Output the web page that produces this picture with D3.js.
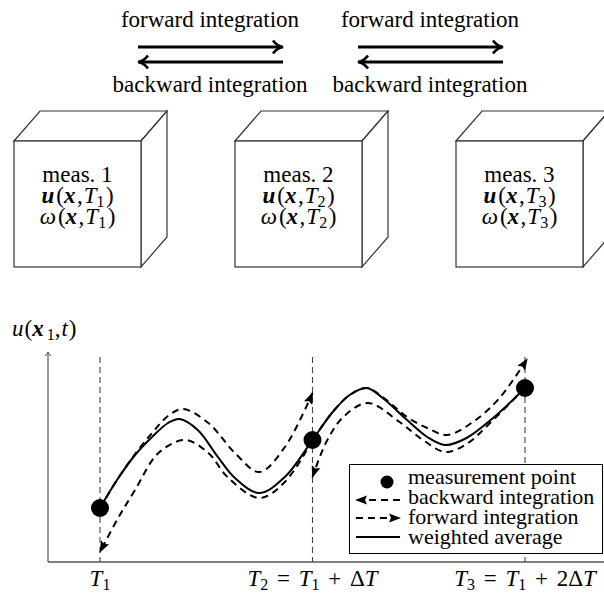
<!DOCTYPE html>
<html><head><meta charset="utf-8">
<script src="https://cdn.jsdelivr.net/npm/d3@7"></script>
<style>
html,body{margin:0;padding:0;background:#fff;}
svg{display:block;font-family:"Liberation Serif","Times New Roman",serif;}
</style></head>
<body>
<script>
// ---------- data ----------
const measNames = ["meas. 1", "meas. 2", "meas. 3"];
const measSubs = ["1", "2", "3"];
const measT = [0, 1, 2];               // time in units of ΔT after T1
const measU = [5.4, 12.2, 17.4];       // u(x1,t) at measurement
const tickT = [0, 1, 2];
const tickLabels = [
  [["T","i"],["1","s"]],
  [["T","i"],["2","s"],[" = ","o"],["T","i"],["1","s"],[" + ","o"],["Δ",""],["T","i"]],
  [["T","i"],["3","s"],[" = ","o"],["T","i"],["1","s"],[" + ","o"],["2Δ",""],["T","i"]]
];
// weighted average curve
const avgT = [0, 0.08, 0.165, 0.245, 0.32, 0.375, 0.46, 0.555, 0.635, 0.75, 0.87, 1.0, 1.095, 1.175, 1.255, 1.33, 1.445, 1.54, 1.625, 1.725, 1.85, 2.0];
const avgU = [5.4, 8.2, 10.7, 12.5, 13.9, 14.3, 13.2, 10.5, 8.4, 6.9, 8.5, 12.2, 15.0, 16.7, 17.4, 16.4, 14.2, 12.5, 11.7, 12.4, 14.4, 17.4];
// forward integration from T1
const fwd1T = [0, 0.08, 0.165, 0.245, 0.32, 0.39, 0.51, 0.635, 0.75, 0.87, 1.0];
const fwd1U = [5.4, 8.2, 10.8, 12.9, 14.6, 15.3, 13.9, 10.9, 9.0, 11.5, 16.9];
// backward integration from T2
const bwd1T = [1.0, 0.87, 0.75, 0.6, 0.51, 0.40, 0.275, 0.165, 0.08, 0.0];
const bwd1U = [12.2, 8.0, 6.4, 8.5, 10.9, 12.2, 10.9, 7.2, 4.2, 1.0];
// forward integration from T2
const fwd2T = [1.0, 1.095, 1.175, 1.255, 1.33, 1.445, 1.54, 1.633, 1.755, 1.88, 2.01];
const fwd2U = [12.2, 15.0, 16.7, 17.4, 16.5, 14.5, 13.4, 12.7, 14.0, 16.4, 20.3];
// backward integration from T3
const bwd2T = [2.0, 1.85, 1.725, 1.625, 1.52, 1.41, 1.26, 1.145, 1.065, 1.0];
const bwd2U = [17.4, 14.2, 11.8, 11.0, 12.2, 14.0, 15.9, 14.5, 12.0, 8.5];
const legendItems = ["measurement point", "backward integration", "forward integration", "weighted average"];
const topLabels = ["forward integration", "backward integration"];

// ---------- drawing ----------
const W = 604, H = 593;
const svg = d3.select("body").append("svg").attr("width", W).attr("height", H);
const defs = svg.append("defs");
defs.append("marker").attr("id","tri").attr("markerUnits","userSpaceOnUse")
  .attr("viewBox","0 -6 12 12").attr("refX",11).attr("refY",0)
  .attr("markerWidth",12).attr("markerHeight",12).attr("orient","auto")
  .append("path").attr("d","M0,-4.5L12,0L0,4.5L2,0Z").attr("fill","#000");
defs.append("marker").attr("id","chev").attr("markerUnits","userSpaceOnUse")
  .attr("viewBox","-12 -8 14 16").attr("refX",0).attr("refY",0)
  .attr("markerWidth",14).attr("markerHeight",16).attr("orient","auto")
  .append("path").attr("d","M-9,-6.5Q-5,-1 1,0Q-5,1 -9,6.5").attr("fill","none").attr("stroke","#000").attr("stroke-width",2.6);
defs.append("marker").attr("id","axarr").attr("markerUnits","userSpaceOnUse")
  .attr("viewBox","-6 -4 8 8").attr("refX",0).attr("refY",0)
  .attr("markerWidth",8).attr("markerHeight",8).attr("orient","auto")
  .append("path").attr("d","M-4,-3Q-1.5,-0.5 0,0Q-1.5,0.5 -4,3").attr("fill","none").attr("stroke","#555").attr("stroke-width",1);

// top arrows
const arrowPairs = [[138, 283], [358, 503]];
arrowPairs.forEach(([a, b]) => {
  const cx = (a + b) / 2 - 0.5;
  svg.append("line").attr("x1",a).attr("x2",b-1).attr("y1",47).attr("y2",47)
    .attr("stroke","#000").attr("stroke-width",3).attr("marker-end","url(#chev)");
  svg.append("line").attr("x1",b).attr("x2",a+1).attr("y1",62).attr("y2",62)
    .attr("stroke","#000").attr("stroke-width",3).attr("marker-end","url(#chev)");
  svg.append("text").attr("x",cx).attr("y",27).attr("text-anchor","middle")
    .attr("font-size",23).text(topLabels[0]);
  svg.append("text").attr("x",cx).attr("y",92).attr("text-anchor","middle")
    .attr("font-size",23).text(topLabels[1]);
});

// math helper: u(x,T_i) / ω(x,T_i)
function mathLine(sel, first, firstBold, sub) {
  sel.append("tspan").attr("font-weight", firstBold ? "bold" : null).attr("font-style","italic").text(first);
  sel.append("tspan").attr("dx",2).text("(");
  sel.append("tspan").attr("font-weight","bold").attr("font-style","italic").text("x");
  sel.append("tspan").attr("dx",1.5).text(",");
  sel.append("tspan").attr("dx",1).attr("font-style","italic").text("T");
  sel.append("tspan").attr("font-size",16).attr("dy",4).text(sub);
  sel.append("tspan").attr("dy",-4).attr("dx",1.5).text(")");
}

// cubes
const cubeX = d3.scaleLinear().domain([0, 2]).range([14, 456]);
const cw = 127, ch = 126, cy = 141, dx = 26, dy = -30;
measNames.forEach((name, i) => {
  const x0 = Math.round(cubeX(i));
  const g = svg.append("g").attr("fill","#fff").attr("stroke","#333").attr("stroke-width",1.2);
  g.append("path").attr("d",`M${x0},${cy}L${x0+dx},${cy+dy}L${x0+cw+dx},${cy+dy}L${x0+cw},${cy}Z`);
  g.append("path").attr("d",`M${x0+cw},${cy}L${x0+cw+dx},${cy+dy}L${x0+cw+dx},${cy+ch+dy}L${x0+cw},${cy+ch}Z`);
  g.append("rect").attr("x",x0).attr("y",cy).attr("width",cw).attr("height",ch);
  const tx = x0 + cw / 2;
  svg.append("text").attr("x",tx).attr("y",182).attr("text-anchor","middle").attr("font-size",23).text(name);
  mathLine(svg.append("text").attr("x",tx).attr("y",203).attr("text-anchor","middle").attr("font-size",23), "u", true, measSubs[i]);
  mathLine(svg.append("text").attr("x",tx).attr("y",224).attr("text-anchor","middle").attr("font-size",23), "ω", false, measSubs[i]);
});

// lower chart
const x = d3.scaleLinear().domain([0, 2]).range([100, 525]);
const y = d3.scaleLinear().domain([0, 21]).range([562, 352]);
const xMin = x.invert(48), xMax = x.invert(606);

// axes
svg.append("line").attr("x1",x(xMin)).attr("x2",x(xMax)).attr("y1",y(0)).attr("y2",y(0))
  .attr("stroke","#555").attr("stroke-width",1.3);
svg.append("line").attr("x1",x(xMin)).attr("x2",x(xMin)).attr("y1",y(0)).attr("y2",y(21))
  .attr("stroke","#555").attr("stroke-width",1.2).attr("marker-end","url(#axarr)");
// axis label
const yl = svg.append("text").attr("x",12).attr("y",336).attr("font-size",23);
yl.append("tspan").attr("font-style","italic").text("u");
yl.append("tspan").attr("dx",1).text("(");
yl.append("tspan").attr("font-weight","bold").attr("font-style","italic").text("x");
yl.append("tspan").attr("font-size",16).attr("dy",4).attr("dx",3).text("1");
yl.append("tspan").attr("dy",-4).text(",");
yl.append("tspan").attr("dx",1).attr("font-style","italic").text("t");
yl.append("tspan").attr("dx",1).text(")");

// vertical dashed guides
tickT.forEach(t => {
  svg.append("line").attr("x1",x(t)).attr("x2",x(t)).attr("y1",y(20.5)).attr("y2",y(0))
    .attr("stroke","#444").attr("stroke-width",1.1).attr("stroke-dasharray","6,4");
});
// tick labels
tickLabels.forEach((parts, i) => {
  const t = svg.append("text").attr("x",x(tickT[i])).attr("y",586).attr("text-anchor","middle").attr("font-size",23);
  let sub = false, padNext = false;
  parts.forEach(([s, st]) => {
    const ts = t.append("tspan").text(s);
    let d = padNext ? 3 : 0;
    padNext = false;
    if (st === "i") ts.attr("font-style","italic");
    if (st === "o") { d += 3; padNext = true; }
    if (st === "s") { ts.attr("font-size",16).attr("dy",4); sub = true; }
    else if (sub) { ts.attr("dy",-4); sub = false; }
    if (d) ts.attr("dx", d);
  });
});

const line = d3.line().x(d => x(d[0])).y(d => y(d[1])).curve(d3.curveCatmullRom.alpha(0.5));
const zipP = (a, b) => a.map((v, i) => [v, b[i]]);
const dashed = (T, U) => svg.append("path").attr("d", line(zipP(T, U))).attr("fill","none")
  .attr("stroke","#000").attr("stroke-width",2).attr("stroke-dasharray","7,5").attr("marker-end","url(#tri)");
dashed(fwd1T, fwd1U);
dashed(bwd1T, bwd1U);
dashed(fwd2T, fwd2U);
dashed(bwd2T, bwd2U);
svg.append("path").attr("d", line(zipP(avgT, avgU))).attr("fill","none")
  .attr("stroke","#000").attr("stroke-width",2);
svg.selectAll("circle.meas").data(zipP(measT, measU)).enter().append("circle")
  .attr("class","meas").attr("cx",d => x(d[0])).attr("cy",d => y(d[1])).attr("r",9).attr("fill","#000");

// legend
const lg = svg.append("g");
lg.append("rect").attr("x",349.5).attr("y",464.5).attr("width",253).attr("height",89)
  .attr("fill","#fff").attr("stroke","#000").attr("stroke-width",1);
const lys = [482, 500, 518, 537];
const lbs = [484, 504, 524, 544];
lg.append("circle").attr("cx",387).attr("cy",lys[0]).attr("r",6.5).attr("fill","#000");
lg.append("line").attr("x1",400).attr("x2",356).attr("y1",lys[1]).attr("y2",lys[1])
  .attr("stroke","#000").attr("stroke-width",2).attr("stroke-dasharray","7,5").attr("marker-end","url(#tri)");
lg.append("line").attr("x1",356).attr("x2",400).attr("y1",lys[2]).attr("y2",lys[2])
  .attr("stroke","#000").attr("stroke-width",2).attr("stroke-dasharray","7,5").attr("marker-end","url(#tri)");
lg.append("line").attr("x1",356).attr("x2",400).attr("y1",lys[3]).attr("y2",lys[3])
  .attr("stroke","#000").attr("stroke-width",2);
legendItems.forEach((s, i) => {
  lg.append("text").attr("x",408).attr("y",lbs[i]).attr("font-size",22).text(s);
});
</script>
</body></html>
